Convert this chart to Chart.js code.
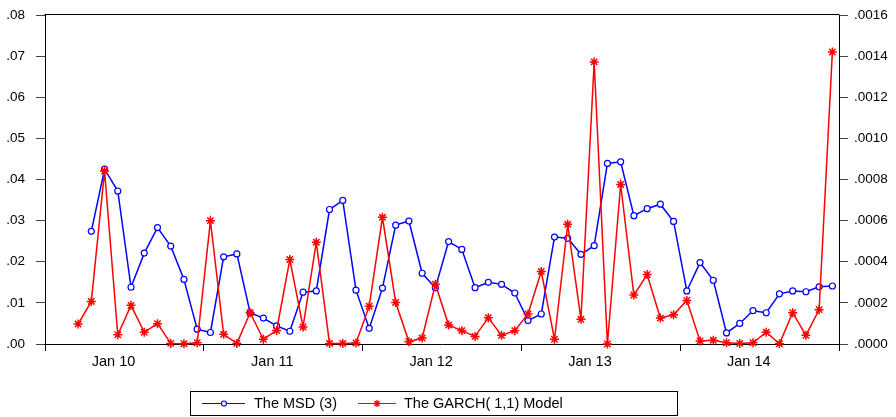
<!DOCTYPE html>
<html>
<head>
<meta charset="utf-8">
<script src="https://cdn.jsdelivr.net/npm/chart.js@4/dist/chart.umd.min.js"></script>
<style>
html,body{margin:0;padding:0;background:#fff;}
canvas{display:block;}
</style>
</head>
<body>
<canvas id="c" width="896" height="417"></canvas>
<script>
const categories = ["2009-09","2009-10","2009-11","2009-12",
 "2010-01","2010-02","2010-03","2010-04","2010-05","2010-06","2010-07","2010-08","2010-09","2010-10","2010-11","2010-12",
 "2011-01","2011-02","2011-03","2011-04","2011-05","2011-06","2011-07","2011-08","2011-09","2011-10","2011-11","2011-12",
 "2012-01","2012-02","2012-03","2012-04","2012-05","2012-06","2012-07","2012-08","2012-09","2012-10","2012-11","2012-12",
 "2013-01","2013-02","2013-03","2013-04","2013-05","2013-06","2013-07","2013-08","2013-09","2013-10","2013-11","2013-12",
 "2014-01","2014-02","2014-03","2014-04","2014-05","2014-06","2014-07","2014-08"];

const tickCategories = ["2010-01","2011-01","2012-01","2013-01","2014-01"];
const tickLabels = ["Jan 10","Jan 11","Jan 12","Jan 13","Jan 14"];

const msdValues = [null,null,null,0.0274,0.0425,0.0372,0.0138,0.0221,0.0283,0.0238,0.0157,0.0036,0.0028,0.0212,0.0219,0.0076,0.0063,0.0044,0.0031,0.0126,0.0129,0.0327,0.0349,0.0131,0.0038,0.0136,0.0289,0.0299,0.0172,0.0137,0.0249,0.0230,0.0137,0.0150,0.0145,0.0124,0.0057,0.0073,0.0260,0.0257,0.0218,0.0239,0.0439,0.0443,0.0312,0.0329,0.0340,0.0298,0.0129,0.0198,0.0155,0.0027,0.0050,0.0081,0.0076,0.0122,0.0129,0.0127,0.0139,0.0141];

const garchValues = [null,null,0.000097,0.000207,0.000841,0.000045,0.000188,0.000057,0.000099,0.000003,0.000001,0.000006,0.000600,0.000047,0.000003,0.000152,0.000023,0.000066,0.000411,0.000083,0.000495,0.000003,0.000003,0.000005,0.000184,0.000616,0.000202,0.000011,0.000029,0.000291,0.000092,0.000065,0.000037,0.000128,0.000042,0.000065,0.000146,0.000353,0.000023,0.000582,0.000120,0.001372,0.000000,0.000776,0.000238,0.000338,0.000126,0.000142,0.000212,0.000015,0.000018,0.000006,0.000003,0.000006,0.000057,0.000001,0.000152,0.000042,0.000167,0.001420];

const leftTicks = [0,0.01,0.02,0.03,0.04,0.05,0.06,0.07,0.08];
const rightTicks = [0,0.0002,0.0004,0.0006,0.0008,0.0010,0.0012,0.0014,0.0016];

const seriesNames = ["The MSD (3)","The GARCH( 1,1) Model"];

const FONT = "'Liberation Sans', Arial, sans-serif";
const BLUE = '#0000FF', RED = '#FF0000';

const framePlugin = {
  id: 'frame',
  afterDraw(chart) {
    const a = chart.chartArea, ctx = chart.ctx;
    ctx.save();
    ctx.strokeStyle = '#000';
    ctx.lineWidth = 1;
    ctx.beginPath();
    ctx.moveTo(Math.round(a.left) - 0.5, Math.round(a.top) - 0.5);
    ctx.lineTo(Math.round(a.right) + 0.5, Math.round(a.top) - 0.5);
    ctx.stroke();
    ctx.restore();
  }
};

const legendPlugin = {
  id: 'boxLegend',
  afterDraw(chart) {
    const ctx = chart.ctx;
    ctx.save();
    ctx.strokeStyle = '#000';
    ctx.lineWidth = 1;
    ctx.strokeRect(190.5, 391.5, 487, 24);
    const y = 403.5;
    ctx.strokeStyle = BLUE; ctx.lineWidth = 1.2;
    ctx.beginPath(); ctx.moveTo(202, y); ctx.lineTo(245, y); ctx.stroke();
    ctx.fillStyle = '#fff';
    ctx.beginPath(); ctx.arc(224, y, 2.5, 0, Math.PI*2); ctx.fill(); ctx.stroke();
    ctx.strokeStyle = RED;
    ctx.beginPath(); ctx.moveTo(358, y); ctx.lineTo(396, y); ctx.stroke();
    ctx.lineWidth = 1.3;
    const r = 3.5, cx = 377;
    ctx.beginPath();
    ctx.moveTo(cx - r, y); ctx.lineTo(cx + r, y);
    ctx.moveTo(cx, y - r); ctx.lineTo(cx, y + r);
    const d = r * 0.707;
    ctx.moveTo(cx - d, y - d); ctx.lineTo(cx + d, y + d);
    ctx.moveTo(cx - d, y + d); ctx.lineTo(cx + d, y - d);
    ctx.stroke();
    ctx.fillStyle = '#000';
    ctx.font = '14.5px ' + FONT;
    ctx.textBaseline = 'middle';
    ctx.textAlign = 'left';
    ctx.fillText(seriesNames[0], 254, y);
    ctx.fillText(seriesNames[1], 404, y);
    ctx.restore();
  }
};

const fixV = (w) => (s) => { s.width = w; s.paddingTop = 0; s.paddingBottom = 0; };

new Chart(document.getElementById('c'), {
  type: 'line',
  data: {
    labels: categories,
    datasets: [
      {
        label: seriesNames[1],
        data: garchValues,
        yAxisID: 'y2',
        borderColor: RED,
        backgroundColor: RED,
        borderWidth: 1.5,
        pointStyle: 'star',
        pointRadius: 4.5,
        pointBorderWidth: 1.5,
        pointBorderColor: RED,
        pointBackgroundColor: RED,
        tension: 0,
        spanGaps: false,
        clip: false
      },
      {
        label: seriesNames[0],
        data: msdValues,
        yAxisID: 'y',
        borderColor: BLUE,
        backgroundColor: '#fff',
        borderWidth: 1.5,
        pointStyle: 'circle',
        pointRadius: 3,
        pointBorderWidth: 1.2,
        pointBorderColor: BLUE,
        pointBackgroundColor: '#fff',
        tension: 0,
        clip: false
      }
    ]
  },
  options: {
    responsive: false,
    animation: false,
    devicePixelRatio: 1,
    layout: { padding: { left: 0, right: 0, top: 15, bottom: 43 } },
    plugins: { legend: { display: false }, tooltip: { enabled: false } },
    scales: {
      x: {
        type: 'category',
        offset: true,
        border: { display: true, color: '#000', width: 1 },
        grid: {
          drawOnChartArea: false,
          drawTicks: true,
          tickLength: 7,
          offset: true,
          lineWidth: 1,
          color: (c) => (c.type !== 'tick' || c.index % 12 === 0) ? '#000' : 'rgba(0,0,0,0)'
        },
        ticks: {
          autoSkip: false,
          maxRotation: 0,
          minRotation: 0,
          padding: 2,
          labelOffset: 9,
          color: '#000',
          font: { family: FONT, size: 14.5 },
          callback: (v, i) => {
            const k = tickCategories.indexOf(categories[i]);
            return k >= 0 ? tickLabels[k] : '';
          }
        },
        afterFit: (s) => { s.height = 30; s.paddingLeft = 0; s.paddingRight = 0; }
      },
      y: {
        position: 'left',
        min: 0, max: 0.08,
        border: { display: true, color: '#000', width: 1 },
        grid: { drawOnChartArea: false, drawTicks: true, tickLength: 9, color: '#444' },
        afterBuildTicks: (s) => { s.ticks = leftTicks.map(v => ({ value: v })); },
        ticks: {
          padding: 11,
          color: '#000',
          font: { family: FONT, size: 13.5 },
          callback: (v) => v.toFixed(2).replace(/^0/, '')
        },
        afterFit: fixV(45)
      },
      y2: {
        position: 'right',
        min: 0, max: 0.0016,
        border: { display: true, color: '#000', width: 1 },
        grid: { drawOnChartArea: false, drawTicks: true, tickLength: 9, color: '#444' },
        afterBuildTicks: (s) => { s.ticks = rightTicks.map(v => ({ value: v })); },
        ticks: {
          padding: 6,
          color: '#000',
          font: { family: FONT, size: 13.5 },
          callback: (v) => v.toFixed(4).replace(/^0/, '')
        },
        afterFit: fixV(57)
      }
    }
  },
  plugins: [framePlugin, legendPlugin]
});
</script>
</body>
</html>
